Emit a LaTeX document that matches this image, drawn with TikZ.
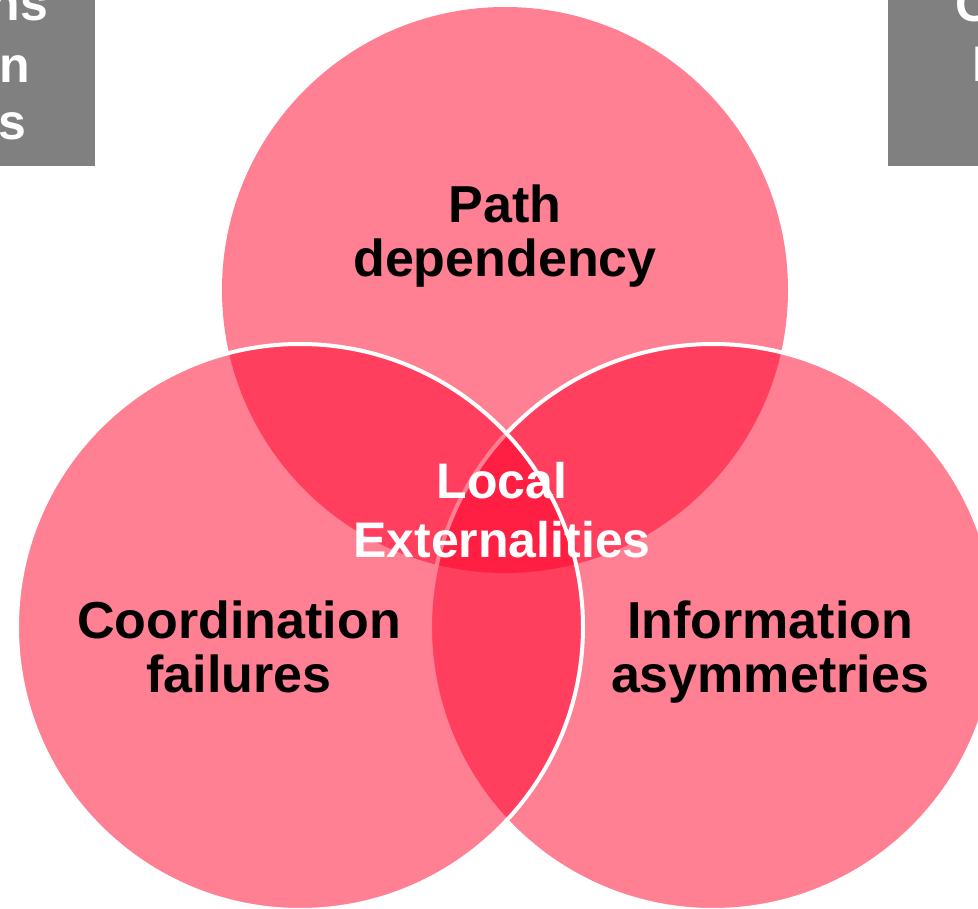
\documentclass[tikz,border=0pt]{standalone}
\usepackage{fontspec}
\setmainfont{Liberation Sans}
\definecolor{vennred}{RGB}{255,0,40}
\definecolor{boxgrey}{RGB}{128,128,128}
\tikzset{
  venn/.style={circle, minimum size=566pt, inner sep=0pt, fill=vennred, fill opacity=0.5},
  vennedge/.style={venn, draw=white, line width=4pt, draw opacity=1},
  lbl/.style={font=\fontsize{52}{54}\selectfont\bfseries, align=center, text=black, text opacity=1, inner sep=0pt},
  wlbl/.style={lbl, text=white, font=\fontsize{50}{59}\selectfont\bfseries},
  greybox/.style={fill=boxgrey, draw=none, inner sep=0pt, anchor=north west},
  boxtext/.style={text=white, font=\fontsize{50}{60}\selectfont\bfseries, inner sep=0pt}
}
\begin{document}
\begin{tikzpicture}[x=1pt,y=-1pt]
\useasboundingbox (0,0) rectangle (978,909);
\clip (0,0) rectangle (978,909);
% grey boxes
\node[greybox, minimum width=95pt, minimum height=166pt] (lbox) at (0,0) {};
\node[greybox, minimum width=95pt, minimum height=166pt] (rbox) at (888,0) {};
\node[boxtext, anchor=base east] (l1) at (48,21) {ns};
\node[boxtext, anchor=base east] (l2) at (30,83) {n};
\node[boxtext, anchor=base east] (l3) at (27,140) {s};
\node[boxtext, anchor=base west] (r1) at (955,22) {C};
\node[boxtext, anchor=base west] (r2) at (972,82) {I};
% circles
\node[venn] (ctop) at (505,290) {};
\node[vennedge] (cright) at (713,627) {};
\node[vennedge] (cleft) at (300,627) {};
% labels (base anchor = baseline of the last line)
\node[lbl, anchor=base] (tpath) at (505,277) {Path\\dependency};
\node[lbl, anchor=base] (tcoord) at (239,692) {Coordination\\failures};
\node[lbl, anchor=base] (tinfo) at (770,692) {Information\\asymmetries};
\node[wlbl, anchor=base] (tlocal) at (502,557) {Local\\Externalities};
\end{tikzpicture}
\end{document}
